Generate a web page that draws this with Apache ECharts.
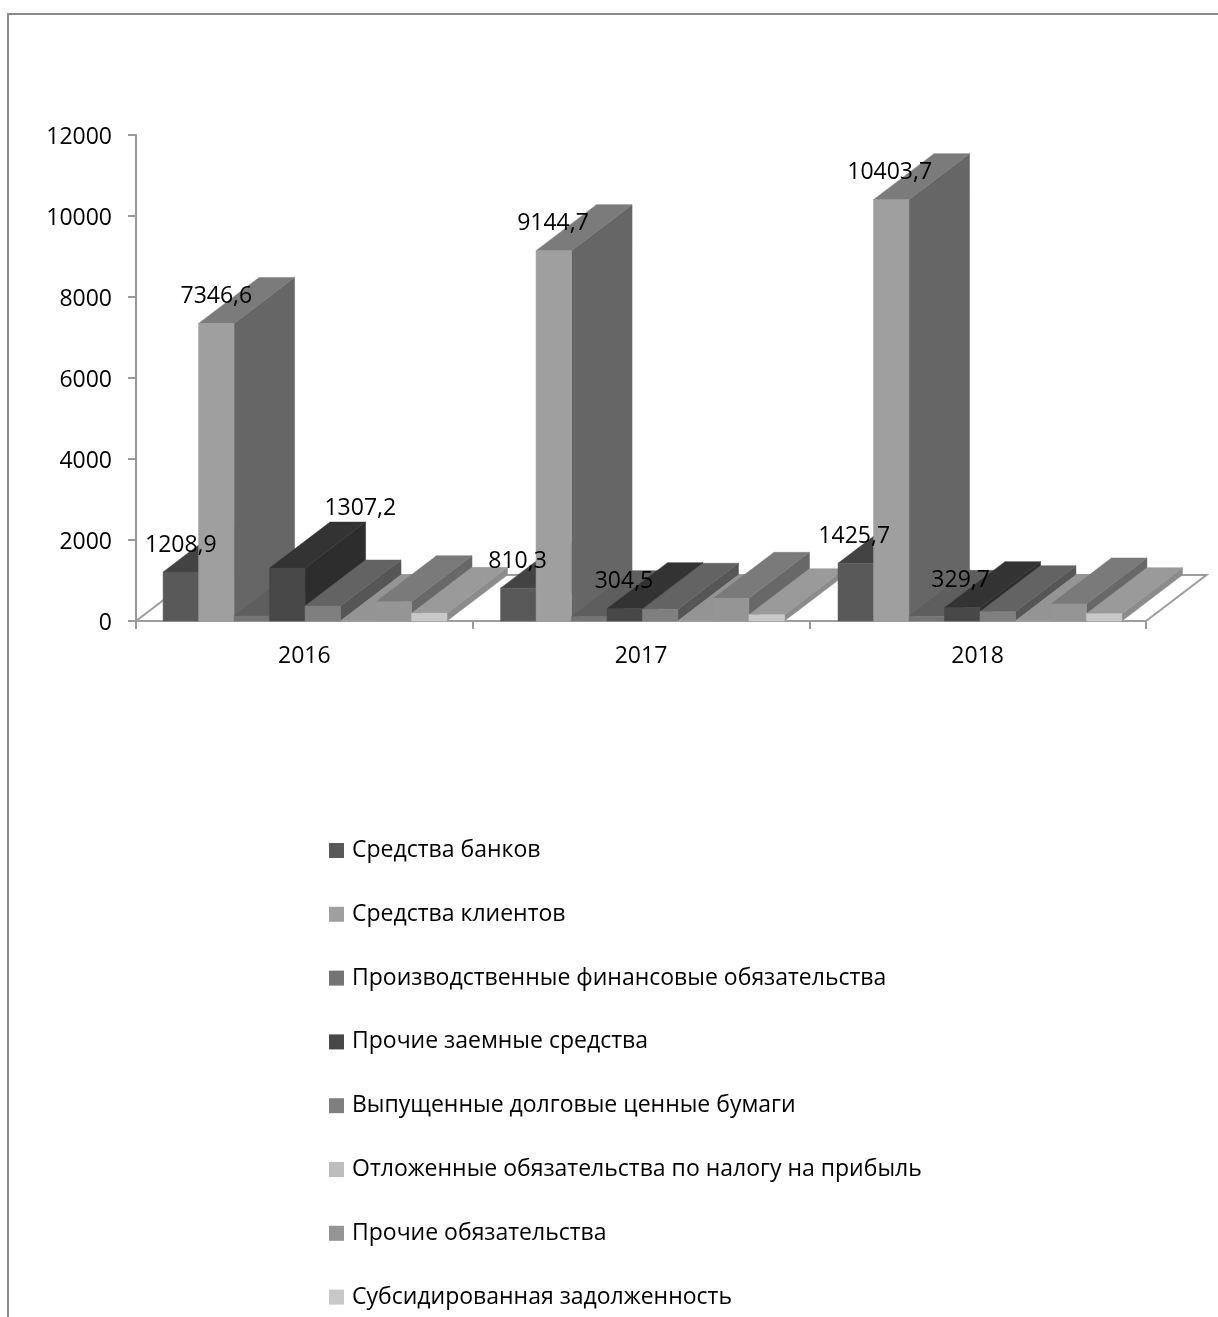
<!DOCTYPE html>
<html>
<head>
<meta charset="utf-8">
<style>html,body{margin:0;padding:0;background:#fff}#chart{width:1218px;height:1317px}</style>
<script src="https://cdn.jsdelivr.net/npm/echarts@6/dist/echarts.min.js"></script>
</head>
<body>
<div id="chart"></div>
<script>
// Liabilities structure by year, millions
const years = ['2016', '2017', '2018'];
const seriesNames = [
  'Средства банков',
  'Средства клиентов',
  'Производственные финансовые обязательства',
  'Прочие заемные средства',
  'Выпущенные долговые ценные бумаги',
  'Отложенные обязательства по налогу на прибыль',
  'Прочие обязательства',
  'Субсидированная задолженность'
];
const bankFunds = [1208.9, 810.3, 1425.7];
const clientFunds = [7346.6, 9144.7, 10403.7];
const derivatives = [123, 108, 115];
const otherBorrowings = [1307.2, 304.5, 329.7];
const debtSecurities = [370, 290, 230];
const deferredTax = [5, 5, 5];
const otherLiabilities = [477, 560, 420];
const subsidized = [190, 156, 181];
const seriesValues = [bankFunds, clientFunds, derivatives, otherBorrowings,
  debtSecurities, deferredTax, otherLiabilities, subsidized];

// Only these series carry value labels
const labelledSeries = [0, 1, 3];

// Face shades per series: front, top, side
const frontColors = ['#595959', '#9f9f9f', '#747474', '#484848', '#7f7f7f', '#bdbdbd', '#959595', '#c8c8c8'];
const topColors   = ['#434343', '#7b7b7b', '#5e5e5e', '#333333', '#636363', '#949494', '#7a7a7a', '#9a9a9a'];
const sideColors  = ['#3b3b3b', '#666666', '#545454', '#2d2d2d', '#565656', '#858585', '#686868', '#8c8c8c'];

const FONT = '"Open Sans", "Noto Sans", sans-serif';
const FONT_SIZE = 23;
const DEPTH_X = 60.5;
const DEPTH_Y = -46;
const GAP_RATIO = 0.0805;    // empty share of a band ahead of its first bar
const BAR_RATIO = 0.1054;    // bar width as a share of the band
const GROUP_DRIFT = 0.8;     // bar groups advance slightly faster than the ticks
const LABEL_RISE = 27;
const movedLabel = { series: 3, year: 0, dx: 73, dy: -33 };

function prism(s) {
  return function (params, api) {
    const yearIdx = api.value(0);
    const val = api.value(1);
    const band = api.size([1, 0])[0];
    const centre = api.coord([yearIdx, 0])[0];
    const base = api.coord([yearIdx, 0])[1];
    const top = api.coord([yearIdx, val])[1];
    const barW = band * BAR_RATIO;
    const x0 = centre - band / 2 + band * GAP_RATIO + yearIdx * GROUP_DRIFT + s * barW;
    const x1 = x0 + barW;
    const z2 = yearIdx * 100 + s * 2;
    const poly = (pts, fill, edge) => ({
      type: 'polygon', z2,
      shape: { points: pts },
      style: { fill, stroke: fill, lineWidth: edge }
    });
    const children = [
      poly([[x1, base], [x1 + DEPTH_X, base + DEPTH_Y], [x1 + DEPTH_X, top + DEPTH_Y], [x1, top]], sideColors[s], 0.5),
      poly([[x0, top], [x1, top], [x1 + DEPTH_X, top + DEPTH_Y], [x0 + DEPTH_X, top + DEPTH_Y]], topColors[s], 0.5),
      // A front face thinner than a pixel gets no outline of its own
      poly([[x0, base], [x1, base], [x1, top], [x0, top]], frontColors[s], base - top > 1 ? 0.5 : 0)
    ];
    if (labelledSeries.includes(s)) {
      const moved = movedLabel.series === s && movedLabel.year === yearIdx;
      children.push({
        type: 'text', z2: 5000,
        style: {
          x: (x0 + x1) / 2 - yearIdx * GROUP_DRIFT + (moved ? movedLabel.dx : 0),
          y: top - LABEL_RISE + (moved ? movedLabel.dy : 0),
          text: val.toFixed(1).replace('.', ','),
          fill: '#000', font: FONT_SIZE + 'px ' + FONT,
          align: 'center', verticalAlign: 'middle'
        }
      });
    }
    return { type: 'group', children };
  };
}

// Floor of the oblique plot, drawn under the bars
function floor(params) {
  const g = params.coordSys;
  const l = g.x, r = g.x + g.width, b = g.y + g.height;
  return {
    type: 'polygon', z2: -1,
    shape: { points: [[l, b], [r, b], [r + DEPTH_X, b + DEPTH_Y], [l + DEPTH_X, b + DEPTH_Y]] },
    style: { fill: '#fff', stroke: '#9e9e9e', lineWidth: 2 }
  };
}

const chart = echarts.init(document.getElementById('chart'), null, { renderer: 'canvas' });
const axisLine = { show: true, lineStyle: { color: '#9a9a9a', width: 2 } };
const axisTick = { show: true, length: 8, lineStyle: { color: '#9a9a9a', width: 2 } };

chart.setOption({
  animation: false,
  backgroundColor: '#fff',
  textStyle: { fontFamily: FONT },
  grid: { left: 136, right: 72, top: 135, bottom: 696 },
  xAxis: {
    type: 'category', data: years, boundaryGap: true,
    axisLine, axisTick,
    axisLabel: { color: '#000', fontFamily: FONT, fontSize: FONT_SIZE, margin: 24 }
  },
  yAxis: {
    type: 'value', min: 0, max: 12000, interval: 2000,
    axisLine, axisTick, splitLine: { show: false },
    axisLabel: { color: '#000', fontFamily: FONT, fontSize: FONT_SIZE, margin: 24,
      verticalAlign: 'top', lineHeight: 4, formatter: v => String(v) }
  },
  legend: {
    show: true, orient: 'vertical', left: 329, top: 839, padding: 0,
    icon: 'rect', itemWidth: 15, itemHeight: 15, itemGap: 40.8,
    selectedMode: false, data: seriesNames,
    textStyle: { color: '#000', fontFamily: FONT, fontSize: FONT_SIZE, padding: [0, 0, 0, 3] }
  },
  graphic: [{
    type: 'polyline', silent: true, z: 0,
    shape: { points: [[8, 1317], [8, 14], [1218, 14]] },
    style: { fill: 'none', stroke: '#8a8a8a', lineWidth: 2 }
  }],
  series: [
    { type: 'custom', silent: true, data: [[0, 0]], renderItem: floor, z: 1 }
  ].concat(seriesNames.map((name, s) => ({
    type: 'custom', name, silent: true,
    itemStyle: { color: frontColors[s] },
    encode: { x: 0, y: 1 },
    data: seriesValues[s].map((v, i) => [i, v]),
    renderItem: prism(s)
  })))
});
</script>
</body>
</html>
